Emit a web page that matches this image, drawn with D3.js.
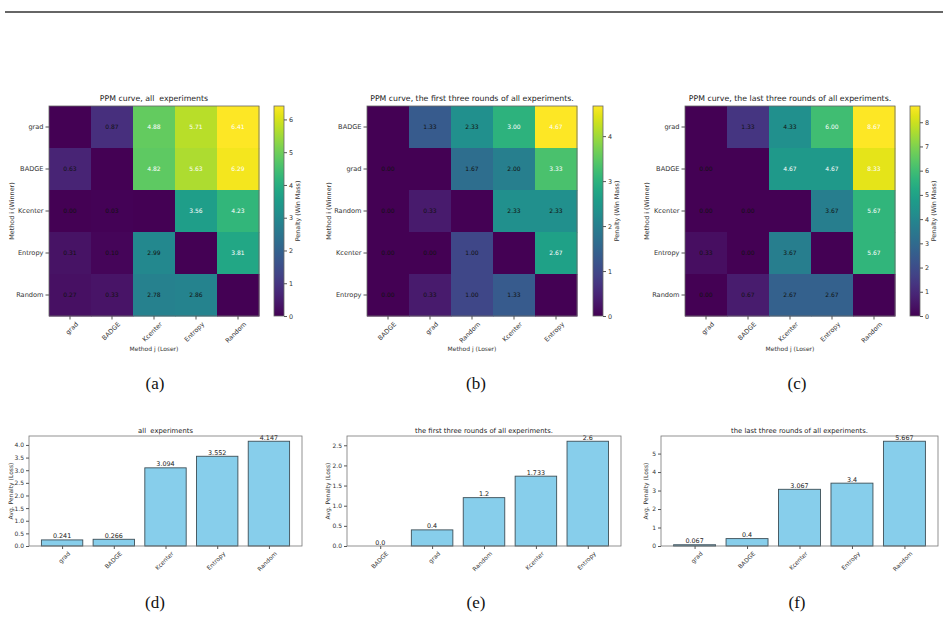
<!DOCTYPE html>
<html>
<head>
<meta charset="utf-8">
<script src="https://cdn.jsdelivr.net/npm/d3@7"></script>
<style>
  body { margin: 0; background: #fff; }
  text { font-family: "DejaVu Sans", sans-serif; white-space: pre; }
</style>
</head>
<body>
<div id="plot"></div>
<script>
// heatmap methods (rows = winner, cols = loser)
var methodsA = ["grad", "BADGE", "Kcenter", "Entropy", "Random"];
var methodsB = ["BADGE", "grad", "Random", "Kcenter", "Entropy"];
var methodsC = ["grad", "BADGE", "Kcenter", "Entropy", "Random"];

var ppmA = [
  [null, 0.87, 4.88, 5.71, 6.41],
  [0.63, null, 4.82, 5.63, 6.29],
  [0.00, 0.03, null, 3.56, 4.23],
  [0.31, 0.10, 2.99, null, 3.81],
  [0.27, 0.33, 2.78, 2.86, null]
];
var ppmB = [
  [null, 1.33, 2.33, 3.00, 4.67],
  [0.00, null, 1.67, 2.00, 3.33],
  [0.00, 0.33, null, 2.33, 2.33],
  [0.00, 0.00, 1.00, null, 2.67],
  [0.00, 0.33, 1.00, 1.33, null]
];
var ppmC = [
  [null, 1.33, 4.33, 6.00, 8.67],
  [0.00, null, 4.67, 4.67, 8.33],
  [0.00, 0.00, null, 3.67, 5.67],
  [0.33, 0.00, 3.67, null, 5.67],
  [0.00, 0.67, 2.67, 2.67, null]
];

var heatTitles = [
  "PPM curve, all  experiments",
  "PPM curve, the first three rounds of all experiments.",
  "PPM curve, the last three rounds of all experiments."
];
var cbarTicks = [[0, 1, 2, 3, 4, 5, 6], [0, 1, 2, 3, 4], [0, 1, 2, 3, 4, 5, 6, 7, 8]];

// average penalty bars
var barCatsD = ["grad", "BADGE", "Kcenter", "Entropy", "Random"];
var barValsD = [0.241, 0.266, 3.094, 3.552, 4.147];
var barCatsE = ["BADGE", "grad", "Random", "Kcenter", "Entropy"];
var barValsE = [0.0, 0.4, 1.2, 1.733, 2.6];
var barCatsF = ["grad", "BADGE", "Kcenter", "Entropy", "Random"];
var barValsF = [0.067, 0.4, 3.067, 3.4, 5.667];

var barTitles = ["all  experiments", "the first three rounds of all experiments.", "the last three rounds of all experiments."];
var barTicks = [[0, 0.5, 1, 1.5, 2, 2.5, 3, 3.5, 4], [0, 0.5, 1, 1.5, 2, 2.5], [0, 1, 2, 3, 4, 5]];

var captions = ["(a)", "(b)", "(c)", "(d)", "(e)", "(f)"];

var svg = d3.select("#plot").append("svg")
  .attr("width", 948)
  .attr("height", 620);

// top rule
svg.append("line")
  .attr("x1", 5).attr("x2", 943)
  .attr("y1", 12).attr("y2", 12)
  .style("stroke", "#333")
  .style("stroke-width", 1.6);

var defs = svg.append("defs");
var grad = defs.append("linearGradient")
  .attr("id", "viridis")
  .attr("x1", 0).attr("y1", 1).attr("x2", 0).attr("y2", 0);
d3.range(0, 1.0001, 0.05).forEach(function (t) {
  grad.append("stop").attr("offset", t).attr("stop-color", d3.interpolateViridis(t));
});

function fmtTick(v) {
  return v.toFixed(1);
}

function drawHeatmap(left, methods, vals, title, ticks, cbLeft, ylabX) {
  var top = 106, size = 210;
  var vmax = d3.max(vals, function (r) { return d3.max(r); });
  var color = d3.scaleSequential(d3.interpolateViridis).domain([0, vmax]);

  var x = d3.scaleBand().domain(methods).range([left, left + size]);
  var y = d3.scaleBand().domain(methods).range([top, top + size]);

  var cells = [];
  vals.forEach(function (row, i) {
    row.forEach(function (v, j) {
      cells.push({ r: methods[i], c: methods[j], v: v });
    });
  });

  var g = svg.append("g");

  g.selectAll("rect.cell")
    .data(cells)
    .enter().append("rect")
    .attr("class", "cell")
    .attr("x", function (d) { return x(d.c); })
    .attr("y", function (d) { return y(d.r); })
    .attr("width", x.bandwidth() + 0.5)
    .attr("height", y.bandwidth() + 0.5)
    .style("fill", function (d) { return color(d.v == null ? 0 : d.v); });

  // white text on the bright half (matplotlib put 4.33 of 8.67 there, 2.33 of 4.67 not)
  g.selectAll("text.val")
    .data(cells.filter(function (d) { return d.v != null; }))
    .enter().append("text")
    .attr("class", "val")
    .attr("x", function (d) { return x(d.c) + x.bandwidth() / 2; })
    .attr("y", function (d) { return y(d.r) + y.bandwidth() / 2; })
    .attr("dy", "0.35em")
    .style("text-anchor", "middle")
    .style("font-size", "6px")
    .style("fill", function (d) { return d.v > vmax / 2 - 0.005 && d.v != 2.33 ? "#fff" : "#111"; })
    .text(function (d) { return d.v.toFixed(2); });

  g.append("rect")
    .attr("x", left).attr("y", top)
    .attr("width", size).attr("height", size)
    .style("fill", "none").style("stroke", "#666").style("stroke-width", 0.8);

  var yAxis = g.append("g")
    .attr("transform", "translate(" + left + ",0)")
    .call(d3.axisLeft(y).tickSize(3.5).tickPadding(2));
  yAxis.select(".domain").remove();
  yAxis.selectAll("text").style("font-size", "6.6px").style("fill", "#333");
  yAxis.selectAll("line").style("stroke", "#555");

  var xAxis = g.append("g")
    .attr("transform", "translate(0," + (top + size) + ")")
    .call(d3.axisBottom(x).tickSize(3.5).tickPadding(2));
  xAxis.select(".domain").remove();
  xAxis.selectAll("line").style("stroke", "#555");
  xAxis.selectAll("text")
    .style("font-size", "6.4px").style("fill", "#333")
    .style("text-anchor", "end")
    .attr("dy", "0.6em")
    .attr("transform", "translate(2,2) rotate(-45)");

  g.append("text")
    .attr("x", left + size / 2).attr("y", 101)
    .style("text-anchor", "middle")
    .style("font-size", "7.8px")
    .style("fill", "#222")
    .text(title);

  g.append("text")
    .attr("x", left + size / 2).attr("y", 351)
    .style("text-anchor", "middle")
    .style("font-size", "6px")
    .style("fill", "#333")
    .text("Method j (Loser)");

  g.append("text")
    .attr("transform", "translate(" + ylabX + "," + (top + size / 2) + ") rotate(-90)")
    .style("text-anchor", "middle")
    .style("font-size", "6.4px")
    .style("fill", "#333")
    .text("Method i (Winner)");

  // colorbar
  g.append("rect")
    .attr("x", cbLeft).attr("y", top)
    .attr("width", 10).attr("height", size)
    .style("fill", "url(#viridis)")
    .style("stroke", "#666").style("stroke-width", 0.8);

  var cy = d3.scaleLinear().domain([0, vmax]).range([top + size, top]);
  var cAxis = g.append("g")
    .attr("transform", "translate(" + (cbLeft + 10) + ",0)")
    .call(d3.axisRight(cy).tickValues(ticks).tickSize(3).tickPadding(2).tickFormat(d3.format("d")));
  cAxis.select(".domain").remove();
  cAxis.selectAll("text").style("font-size", "6.4px").style("fill", "#333");
  cAxis.selectAll("line").style("stroke", "#555");

  g.append("text")
    .attr("transform", "translate(" + (cbLeft + 26) + "," + (top + size / 2) + ") rotate(-90)")
    .style("text-anchor", "middle")
    .style("font-size", "6.4px")
    .style("fill", "#333")
    .text("Penalty (Win Mass)");
}

function drawBars(left, right, cats, vals, title, ticks, ylabX) {
  var top = 436, bottom = 546;
  var vmax = d3.max(vals) * 1.05;
  var x = d3.scaleLinear().domain([-0.64, cats.length - 1 + 0.64]).range([left, right]);
  var y = d3.scaleLinear().domain([0, vmax]).range([bottom, top]);

  var g = svg.append("g");

  g.selectAll("rect.bar")
    .data(vals)
    .enter().append("rect")
    .attr("class", "bar")
    .attr("x", function (d, i) { return x(i - 0.4); })
    .attr("y", function (d) { return y(d); })
    .attr("width", function (d, i) { return x(i + 0.4) - x(i - 0.4); })
    .attr("height", function (d) { return bottom - y(d); })
    .style("fill", "#87ceeb")
    .style("stroke", "#3d4f57")
    .style("stroke-width", 0.9);

  g.selectAll("text.lbl")
    .data(vals)
    .enter().append("text")
    .attr("class", "lbl")
    .attr("x", function (d, i) { return x(i); })
    .attr("y", function (d) { return y(d) - 1.5; })
    .style("text-anchor", "middle")
    .style("font-size", "6.4px")
    .style("fill", "#222")
    .text(function (d) { var s = String(d); return s.indexOf(".") < 0 ? s + ".0" : s; });

  g.append("rect")
    .attr("x", left).attr("y", top)
    .attr("width", right - left).attr("height", bottom - top)
    .style("fill", "none").style("stroke", "#777").style("stroke-width", 0.8);

  var yAxis = g.append("g")
    .attr("transform", "translate(" + left + ",0)")
    .call(d3.axisLeft(y).tickValues(ticks).tickSize(3).tickPadding(2)
      .tickFormat(ticks[1] == 1 ? d3.format("d") : fmtTick));
  yAxis.select(".domain").remove();
  yAxis.selectAll("text").style("font-size", "6px").style("fill", "#333");
  yAxis.selectAll("line").style("stroke", "#555");

  var xAxis = g.append("g")
    .attr("transform", "translate(0," + bottom + ")")
    .call(d3.axisBottom(x).tickValues(d3.range(cats.length)).tickSize(3).tickPadding(2)
      .tickFormat(function (i) { return cats[i]; }));
  xAxis.select(".domain").remove();
  xAxis.selectAll("line").style("stroke", "#555");
  xAxis.selectAll("text")
    .style("font-size", "6px").style("fill", "#333")
    .style("text-anchor", "end")
    .attr("dy", "0.6em")
    .attr("transform", "translate(2,2) rotate(-45)");

  g.append("text")
    .attr("x", (left + right) / 2).attr("y", 433)
    .style("text-anchor", "middle")
    .style("font-size", "6.8px")
    .style("fill", "#222")
    .text(title);

  g.append("text")
    .attr("transform", "translate(" + ylabX + "," + ((top + bottom) / 2) + ") rotate(-90)")
    .style("text-anchor", "middle")
    .style("font-size", "6px")
    .style("fill", "#333")
    .text("Avg. Penalty (Loss)");
}

drawHeatmap(49, methodsA, ppmA, heatTitles[0], cbarTicks[0], 274, 14);
drawHeatmap(367, methodsB, ppmB, heatTitles[1], cbarTicks[1], 593, 331);
drawHeatmap(685, methodsC, ppmC, heatTitles[2], cbarTicks[2], 910, 649);

drawBars(29, 302, barCatsD, barValsD, barTitles[0], barTicks[0], 13);
drawBars(347, 621, barCatsE, barValsE, barTitles[1], barTicks[1], 330);
drawBars(661, 938, barCatsF, barValsF, barTitles[2], barTicks[2], 648);

// sub-figure captions
var capX = [155, 476, 797];
svg.selectAll("text.cap")
  .data(captions)
  .enter().append("text")
  .attr("class", "cap")
  .attr("x", function (d, i) { return capX[i % 3]; })
  .attr("y", function (d, i) { return i < 3 ? 389 : 608; })
  .style("text-anchor", "middle")
  .style("font-family", "'Liberation Serif', 'DejaVu Serif', serif")
  .style("font-size", "17px")
  .style("fill", "#111")
  .text(function (d) { return d; });
</script>
</body>
</html>
